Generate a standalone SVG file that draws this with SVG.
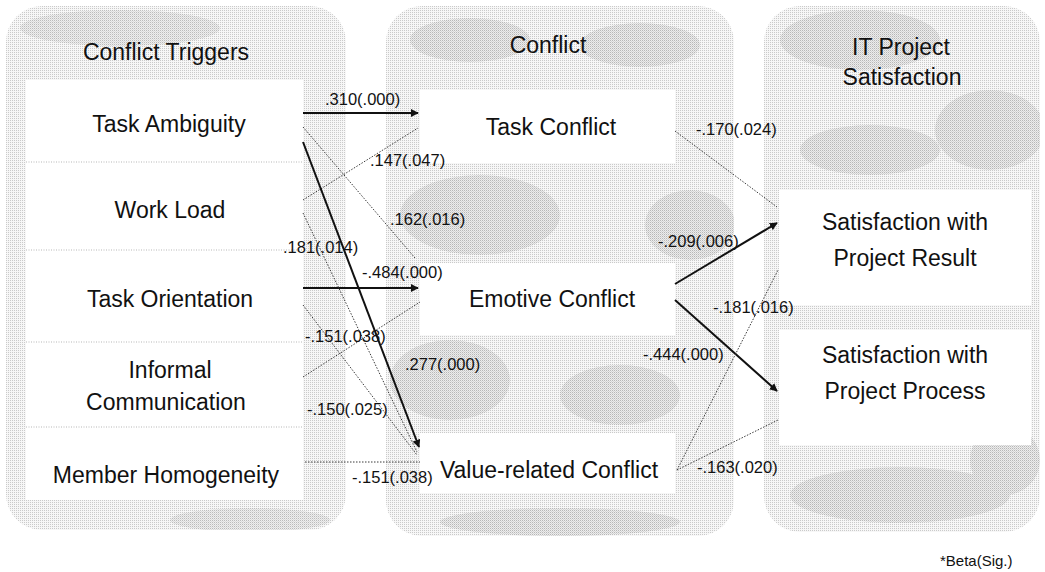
<svg xmlns="http://www.w3.org/2000/svg" width="1045" height="572" viewBox="0 0 1045 572">
  <defs>
    <!-- halftone fills for the three column panels -->
    <pattern id="dither" width="2" height="2" patternUnits="userSpaceOnUse">
      <rect width="2" height="2" fill="#f7f7f7"/>
      <rect width="1" height="1" fill="#cacaca"/>
    </pattern>
    <pattern id="ditherDark" width="2" height="2" patternUnits="userSpaceOnUse">
      <rect width="2" height="2" fill="#e4e4e4"/>
      <rect width="1" height="1" fill="#a8a8a8"/>
      <rect x="1" y="1" width="1" height="1" fill="#b8b8b8"/>
    </pattern>
    <marker id="arrow" viewBox="0 0 10 10" refX="9" refY="5" markerWidth="8" markerHeight="8" markerUnits="userSpaceOnUse" orient="auto">
      <path d="M0,0 L10,5 L0,10 z" fill="#111"/>
    </marker>
    <clipPath id="clipL"><rect x="6" y="6" width="340" height="524" rx="36"/></clipPath>
    <clipPath id="clipM"><rect x="386" y="6" width="348" height="530" rx="36"/></clipPath>
    <clipPath id="clipR"><rect x="764" y="6" width="276" height="526" rx="36"/></clipPath>
  </defs>
  <style>
    .title { font-family: "Liberation Sans", Arial, sans-serif; font-size: 23px; fill: #111; text-anchor: middle; }
    .node  { font-family: "Liberation Sans", Arial, sans-serif; font-size: 23px; fill: #111; text-anchor: middle; }
    .lbl   { font-family: "Liberation Sans", Arial, sans-serif; font-size: 16.5px; fill: #111; }
    .note  { font-family: "Liberation Sans", Arial, sans-serif; font-size: 15px; fill: #111; }
    .box   { fill: #ffffff; }
    .sep   { stroke: #cfcfcf; stroke-width: 1.5; stroke-dasharray: 1 1.5; }
    .strong { stroke: #111; stroke-width: 2; fill: none; }
    .weak  { stroke: #3a3a3a; stroke-width: 1; stroke-dasharray: 1.5 1.5; fill: none; }
    .blot  { fill: url(#ditherDark); }
  </style>

  <rect width="1045" height="572" fill="#ffffff"/>

  <!-- column panels -->
  <g id="panel-triggers">
    <rect x="6" y="6" width="340" height="524" rx="36" fill="url(#dither)"/>
    <g clip-path="url(#clipL)" opacity="0.45">
      <ellipse class="blot" cx="120" cy="28" rx="100" ry="18"/>
      <ellipse class="blot" cx="250" cy="520" rx="80" ry="12"/>
    </g>
  </g>
  <g id="panel-conflict">
    <rect x="386" y="6" width="348" height="530" rx="36" fill="url(#dither)"/>
    <g clip-path="url(#clipM)" opacity="0.55">
      <ellipse class="blot" cx="470" cy="40" rx="60" ry="22"/>
      <ellipse class="blot" cx="640" cy="45" rx="60" ry="22"/>
      <ellipse class="blot" cx="480" cy="215" rx="80" ry="40"/>
      <ellipse class="blot" cx="690" cy="225" rx="45" ry="35"/>
      <ellipse class="blot" cx="450" cy="380" rx="60" ry="40"/>
      <ellipse class="blot" cx="620" cy="395" rx="60" ry="30"/>
      <ellipse class="blot" cx="560" cy="522" rx="120" ry="14"/>
    </g>
  </g>
  <g id="panel-satisfaction">
    <rect x="764" y="6" width="276" height="526" rx="36" fill="url(#dither)"/>
    <g clip-path="url(#clipR)" opacity="0.55">
      <ellipse class="blot" cx="860" cy="40" rx="80" ry="30"/>
      <ellipse class="blot" cx="990" cy="130" rx="55" ry="40"/>
      <ellipse class="blot" cx="870" cy="150" rx="70" ry="25"/>
      <ellipse class="blot" cx="900" cy="495" rx="110" ry="28"/>
      <ellipse class="blot" cx="1005" cy="460" rx="35" ry="35"/>
    </g>
  </g>

  <!-- column headings -->
  <text class="title" x="166" y="60">Conflict Triggers</text>
  <text class="title" x="548" y="53">Conflict</text>
  <text class="title" x="901" y="55">IT Project</text>
  <text class="title" x="902" y="85">Satisfaction</text>

  <!-- trigger nodes -->
  <g id="node-task-ambiguity">
    <rect class="box" x="26" y="80" width="277" height="82"/>
    <text class="node" x="169" y="132">Task Ambiguity</text>
  </g>
  <g id="node-work-load">
    <rect class="box" x="26" y="162" width="277" height="88"/>
    <text class="node" x="170" y="218">Work Load</text>
  </g>
  <g id="node-task-orientation">
    <rect class="box" x="26" y="250" width="277" height="92"/>
    <text class="node" x="170" y="307">Task Orientation</text>
  </g>
  <g id="node-informal-communication">
    <rect class="box" x="26" y="342" width="277" height="85"/>
    <text class="node" x="170" y="378">Informal</text>
    <text class="node" x="166" y="410">Communication</text>
  </g>
  <g id="node-member-homogeneity">
    <rect class="box" x="26" y="427" width="277" height="73"/>
    <text class="node" x="166" y="483">Member Homogeneity</text>
  </g>
  <g id="trigger-separators">
    <line class="sep" x1="26" y1="162" x2="303" y2="162"/>
    <line class="sep" x1="26" y1="250" x2="303" y2="250"/>
    <line class="sep" x1="26" y1="342" x2="303" y2="342"/>
    <line class="sep" x1="26" y1="427" x2="303" y2="427"/>
  </g>

  <!-- conflict nodes -->
  <g id="node-task-conflict">
    <rect class="box" x="420" y="90" width="255" height="73"/>
    <text class="node" x="551" y="135">Task Conflict</text>
  </g>
  <g id="node-emotive-conflict">
    <rect class="box" x="420" y="263" width="255" height="72"/>
    <text class="node" x="552" y="307">Emotive Conflict</text>
  </g>
  <g id="node-value-conflict">
    <rect class="box" x="420" y="433" width="255" height="60"/>
    <text class="node" x="549" y="478">Value-related Conflict</text>
  </g>

  <!-- satisfaction nodes -->
  <g id="node-result">
    <rect class="box" x="779" y="190" width="252" height="115"/>
    <text class="node" x="905" y="230">Satisfaction with</text>
    <text class="node" x="905" y="266">Project Result</text>
  </g>
  <g id="node-process">
    <rect class="box" x="779" y="330" width="252" height="115"/>
    <text class="node" x="905" y="363">Satisfaction with</text>
    <text class="node" x="905" y="399">Project Process</text>
  </g>

  <!-- paths -->
  <g id="connectors">
    <line class="strong" x1="303" y1="113" x2="418" y2="113" marker-end="url(#arrow)"/>
    <line class="weak" x1="303" y1="200" x2="418" y2="128"/>
    <line class="weak" x1="303" y1="127" x2="415" y2="258"/>
    <line class="strong" x1="303" y1="142" x2="419" y2="447" marker-end="url(#arrow)"/>
    <line class="strong" x1="303" y1="288" x2="418" y2="288" marker-end="url(#arrow)"/>
    <line class="weak" x1="303" y1="377" x2="420" y2="302"/>
    <line class="weak" x1="303" y1="213" x2="417" y2="452"/>
    <line class="weak" x1="303" y1="305" x2="417" y2="455"/>
    <line class="weak" x1="305" y1="462" x2="420" y2="462"/>

    <line class="weak" x1="675" y1="131" x2="777" y2="207"/>
    <line class="strong" x1="675" y1="284" x2="777" y2="223" marker-end="url(#arrow)"/>
    <line class="strong" x1="675" y1="300" x2="777" y2="391" marker-end="url(#arrow)"/>
    <line class="weak" x1="677" y1="470" x2="778" y2="270"/>
    <line class="weak" x1="677" y1="470" x2="778" y2="420"/>
  </g>

  <!-- path coefficients -->
  <g id="coefficients">
    <text class="lbl" x="325" y="105">.310(.000)</text>
    <text class="lbl" x="370" y="166">.147(.047)</text>
    <text class="lbl" x="390" y="225">.162(.016)</text>
    <text class="lbl" x="283" y="253">.181(.014)</text>
    <text class="lbl" x="362" y="278">-.484(.000)</text>
    <text class="lbl" x="305" y="342">-.151(.038)</text>
    <text class="lbl" x="405" y="370">.277(.000)</text>
    <text class="lbl" x="307" y="415">-.150(.025)</text>
    <text class="lbl" x="352" y="483">-.151(.038)</text>
    <text class="lbl" x="696" y="135">-.170(.024)</text>
    <text class="lbl" x="658" y="247">-.209(.006)</text>
    <text class="lbl" x="643" y="360">-.444(.000)</text>
    <text class="lbl" x="713" y="313">-.181(.016)</text>
    <text class="lbl" x="697" y="473">-.163(.020)</text>
  </g>

  <text class="note" x="940" y="566">*Beta(Sig.)</text>
</svg>
